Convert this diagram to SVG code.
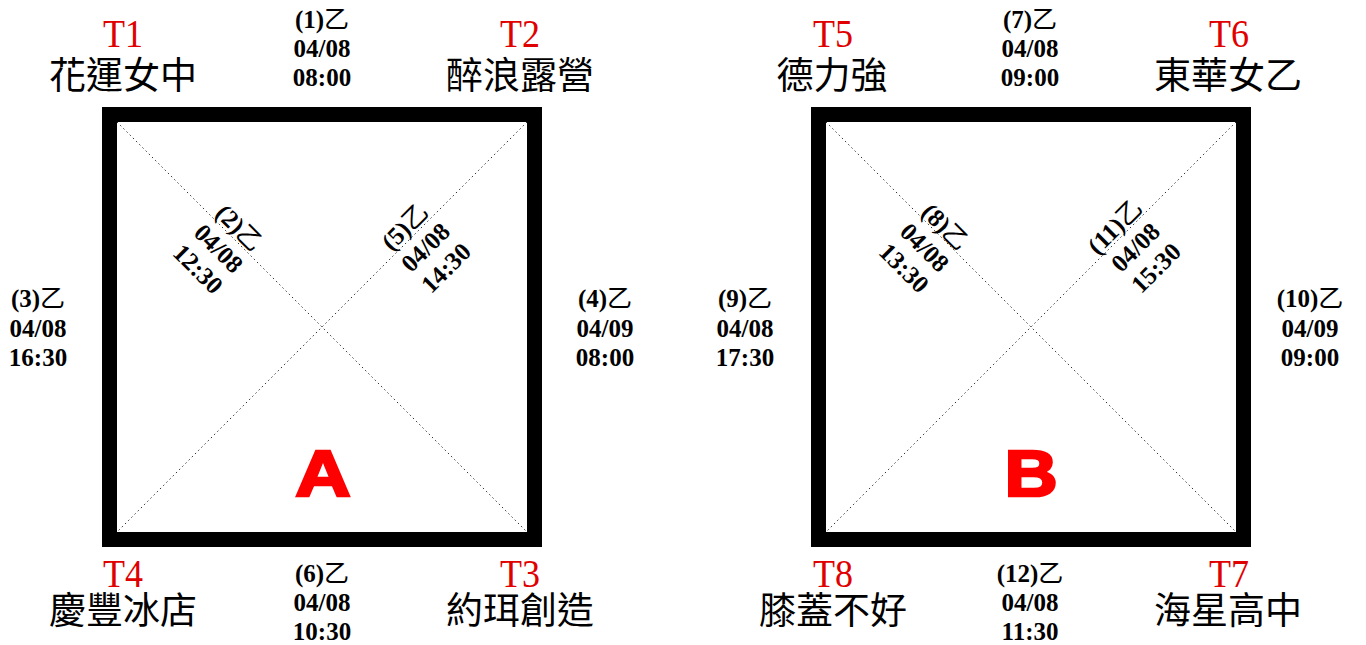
<svg xmlns="http://www.w3.org/2000/svg" width="1366" height="645" viewBox="0 0 1366 645">
<style>
.box{fill:none;stroke:#000;stroke-width:15}
.diag{stroke:#333;stroke-width:1;stroke-dasharray:1.5 3}
.t{font-family:"Liberation Serif",serif;font-size:40px;fill:#e00000;text-anchor:middle}
.n{font-family:"Liberation Serif","Noto Sans CJK TC",serif;font-size:37px;fill:#000;text-anchor:middle}
.e{font-family:"Liberation Serif","Noto Sans CJK TC",serif;font-size:25px;font-weight:bold;fill:#000;text-anchor:middle}
.e tspan{font-weight:normal}
.big{font-family:"Liberation Sans",Arial,sans-serif;font-size:64px;font-weight:bold;fill:#ff0000;stroke:#ff0000;stroke-width:2.5;text-anchor:middle}
</style>
<rect width="1366" height="645" fill="#fff"/>
<g id="boxA">
<rect class="box" x="109.5" y="114.5" width="425" height="425"/>
<text class="big" transform="translate(323,496) scale(1.2,1)">A</text>
</g>
<g id="boxB">
<rect class="box" x="818.5" y="114.5" width="425" height="425"/>
<text class="big" transform="translate(1031,496) scale(1.15,1)">B</text>
</g>
<g id="connectors">
<line class="diag" x1="117" y1="122" x2="527" y2="532"/>
<line class="diag" x1="527" y1="122" x2="117" y2="532"/>
<line class="diag" x1="826" y1="122" x2="1236" y2="532"/>
<line class="diag" x1="1236" y1="122" x2="826" y2="532"/>
</g>
<g id="T1"><text class="t" transform="translate(123,47) scale(0.9,1)">T1</text><text class="n" x="123" y="89">花運女中</text></g>
<g id="T2"><text class="t" transform="translate(520,47) scale(0.9,1)">T2</text><text class="n" x="520" y="89">醉浪露營</text></g>
<g id="T3"><text class="t" transform="translate(520,587) scale(0.9,1)">T3</text><text class="n" x="520" y="624">約珥創造</text></g>
<g id="T4"><text class="t" transform="translate(123,587) scale(0.9,1)">T4</text><text class="n" x="123" y="624">慶豐冰店</text></g>
<g id="T5"><text class="t" transform="translate(833,47) scale(0.9,1)">T5</text><text class="n" x="832" y="89">德力強</text></g>
<g id="T6"><text class="t" transform="translate(1229,47) scale(0.9,1)">T6</text><text class="n" x="1228" y="89">東華女乙</text></g>
<g id="T7"><text class="t" transform="translate(1229,587) scale(0.9,1)">T7</text><text class="n" x="1228" y="624">海星高中</text></g>
<g id="T8"><text class="t" transform="translate(833,587) scale(0.9,1)">T8</text><text class="n" x="833" y="624">膝蓋不好</text></g>
<g id="labels">
<g id="L1"><text class="e" x="322" y="28">(1)<tspan>乙</tspan></text><text class="e" x="322" y="57">04/08</text><text class="e" x="322" y="86">08:00</text></g>
<g id="L2" transform="translate(219,248) rotate(45)"><text class="e" x="0" y="-20">(2)<tspan>乙</tspan></text><text class="e" x="0" y="9">04/08</text><text class="e" x="0" y="38">12:30</text></g>
<g id="L3"><text class="e" x="38" y="307">(3)<tspan>乙</tspan></text><text class="e" x="38" y="337">04/08</text><text class="e" x="38" y="366">16:30</text></g>
<g id="L4"><text class="e" x="605" y="307">(4)<tspan>乙</tspan></text><text class="e" x="605" y="337">04/09</text><text class="e" x="605" y="366">08:00</text></g>
<g id="L5" transform="translate(425,247) rotate(-45)"><text class="e" x="0" y="-20">(5)<tspan>乙</tspan></text><text class="e" x="0" y="9">04/08</text><text class="e" x="0" y="38">14:30</text></g>
<g id="L6"><text class="e" x="322" y="582">(6)<tspan>乙</tspan></text><text class="e" x="322" y="611">04/08</text><text class="e" x="322" y="640">10:30</text></g>
<g id="L7"><text class="e" x="1030" y="28">(7)<tspan>乙</tspan></text><text class="e" x="1030" y="57">04/08</text><text class="e" x="1030" y="86">09:00</text></g>
<g id="L8" transform="translate(925,247) rotate(45)"><text class="e" x="0" y="-20">(8)<tspan>乙</tspan></text><text class="e" x="0" y="9">04/08</text><text class="e" x="0" y="38">13:30</text></g>
<g id="L9"><text class="e" x="745" y="307">(9)<tspan>乙</tspan></text><text class="e" x="745" y="337">04/08</text><text class="e" x="745" y="366">17:30</text></g>
<g id="L10"><text class="e" x="1310" y="307">(10)<tspan>乙</tspan></text><text class="e" x="1310" y="337">04/09</text><text class="e" x="1310" y="366">09:00</text></g>
<g id="L11" transform="translate(1135,247) rotate(-45)"><text class="e" x="0" y="-20">(11)<tspan>乙</tspan></text><text class="e" x="0" y="9">04/08</text><text class="e" x="0" y="38">15:30</text></g>
<g id="L12"><text class="e" x="1030" y="582">(12)<tspan>乙</tspan></text><text class="e" x="1030" y="611">04/08</text><text class="e" x="1030" y="640">11:30</text></g>
</g>
</svg>
